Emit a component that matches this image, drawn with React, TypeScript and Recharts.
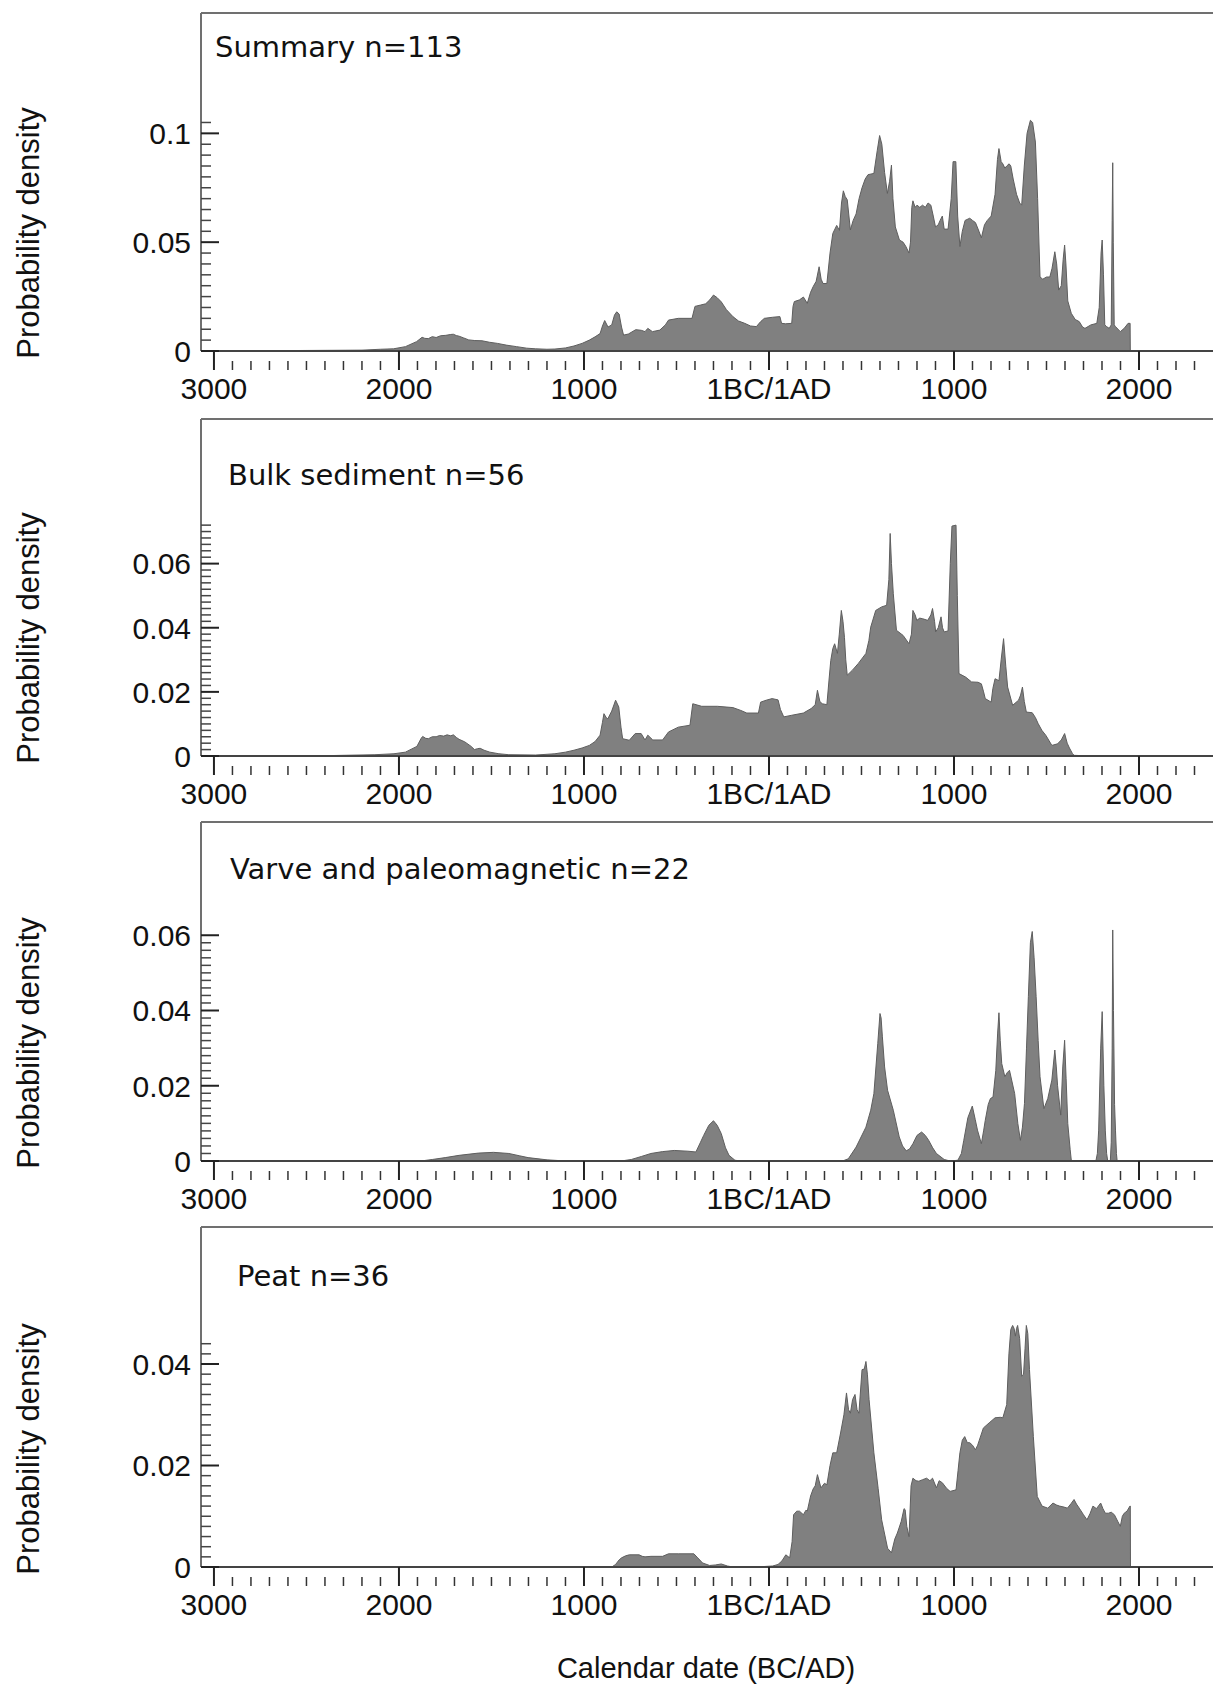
import React from 'react';
import { AreaChart, Area, XAxis, YAxis, ReferenceLine, Label } from 'recharts';

// ---------- axis definitions ----------
const X_DOMAIN: [number, number] = [-3070, 2400];
const xMajorTicks = [-3000, -2000, -1000, 0, 1000, 2000];
const xMajorLabels = ['3000', '2000', '1000', '1BC/1AD', '1000', '2000'];
const xMinorStep = 100;

const panelTitles = ['Summary n=113', 'Bulk sediment n=56', 'Varve and paleomagnetic n=22', 'Peat n=36'];
const yMajorTicks = [
  [0, 0.05, 0.1],
  [0, 0.02, 0.04, 0.06],
  [0, 0.02, 0.04, 0.06],
  [0, 0.02, 0.04],
];
const yMajorLabels = [
  ['0', '0.05', '0.1'],
  ['0', '0.02', '0.04', '0.06'],
  ['0', '0.02', '0.04', '0.06'],
  ['0', '0.02', '0.04'],
];
const yMinorSteps = [0.005, 0.002, 0.002, 0.002];
const yMinorMax = [0.105, 0.072, 0.06, 0.044];
const yDomainMax = [0.1553, 0.1051, 0.0901, 0.067];
const xAxisTitle = 'Calendar date (BC/AD)';
const yAxisTitle = 'Probability density';

// ---------- data: [year (BC negative), probability density] ----------
const summaryCurve: [number, number][] = [
  [-3000, 0], [-2600, 0.0002], [-2200, 0.0004], [-2100, 0.0008], [-2030, 0.001], [-1965, 0.002],
  [-1905, 0.0043], [-1875, 0.0063], [-1860, 0.0058], [-1841, 0.0057], [-1820, 0.0066], [-1799, 0.0062],
  [-1775, 0.007], [-1747, 0.0072], [-1720, 0.0076], [-1706, 0.0077], [-1690, 0.0071], [-1675, 0.0068],
  [-1650, 0.006], [-1623, 0.0051], [-1590, 0.0048], [-1551, 0.0047], [-1510, 0.004], [-1468, 0.0035],
  [-1420, 0.0027], [-1364, 0.002], [-1310, 0.0013], [-1261, 0.001], [-1200, 0.0008], [-1157, 0.0009],
  [-1100, 0.0014], [-1054, 0.0023], [-1010, 0.0035], [-971, 0.005], [-940, 0.0065], [-913, 0.008],
  [-900, 0.0115], [-888, 0.014], [-870, 0.011], [-850, 0.012], [-835, 0.0165], [-823, 0.018],
  [-810, 0.017], [-797, 0.011], [-786, 0.0073], [-760, 0.0078], [-720, 0.0098], [-690, 0.0095],
  [-670, 0.0089], [-655, 0.0104], [-630, 0.0089], [-590, 0.0096], [-560, 0.012], [-543, 0.0142],
  [-490, 0.015], [-416, 0.015], [-400, 0.0205], [-370, 0.0211], [-342, 0.0217], [-320, 0.0235],
  [-300, 0.0257], [-280, 0.0245], [-258, 0.0226], [-230, 0.019], [-195, 0.0158], [-165, 0.0138],
  [-131, 0.0127], [-100, 0.0115], [-68, 0.0112], [-45, 0.0135], [-25, 0.015], [20, 0.0155],
  [59, 0.0158], [68, 0.0127], [90, 0.0125], [123, 0.0127], [130, 0.0205], [137, 0.0227],
  [165, 0.0235], [186, 0.0248], [207, 0.0219], [225, 0.027], [239, 0.0296], [255, 0.032],
  [271, 0.0387], [282, 0.033], [292, 0.031], [313, 0.031], [330, 0.045], [345, 0.054],
  [366, 0.0577], [381, 0.0554], [392, 0.068], [402, 0.0736], [412, 0.071], [423, 0.0695],
  [440, 0.0556], [455, 0.06], [471, 0.063], [487, 0.07], [503, 0.075], [520, 0.079],
  [535, 0.081], [567, 0.0816], [585, 0.092], [598, 0.099], [610, 0.095], [625, 0.082],
  [640, 0.0724], [652, 0.078], [662, 0.0854], [670, 0.07], [683, 0.057], [705, 0.051],
  [725, 0.05], [740, 0.048], [757, 0.045], [765, 0.05], [772, 0.066], [778, 0.069],
  [790, 0.066], [800, 0.067], [815, 0.066], [830, 0.067], [845, 0.066], [860, 0.068],
  [875, 0.067], [888, 0.062], [900, 0.057], [915, 0.058], [925, 0.06], [937, 0.062],
  [947, 0.056], [968, 0.056], [985, 0.07], [995, 0.087], [1010, 0.087], [1020, 0.062],
  [1032, 0.048], [1045, 0.055], [1060, 0.06], [1085, 0.061], [1100, 0.06], [1116, 0.059],
  [1135, 0.055], [1148, 0.052], [1165, 0.058], [1180, 0.06], [1201, 0.062], [1222, 0.072],
  [1235, 0.088], [1243, 0.093], [1255, 0.087], [1264, 0.086], [1275, 0.084], [1285, 0.085],
  [1298, 0.086], [1307, 0.085], [1320, 0.079], [1338, 0.072], [1355, 0.068], [1366, 0.067],
  [1380, 0.085], [1395, 0.1], [1413, 0.106], [1425, 0.105], [1440, 0.096], [1452, 0.07],
  [1465, 0.034], [1480, 0.033], [1500, 0.034], [1518, 0.034], [1530, 0.038], [1545, 0.0456],
  [1555, 0.04], [1566, 0.028], [1580, 0.03], [1590, 0.042], [1598, 0.0487], [1605, 0.04],
  [1615, 0.023], [1634, 0.0173], [1655, 0.0145], [1677, 0.0135], [1695, 0.011], [1708, 0.0104],
  [1740, 0.012], [1772, 0.0127], [1785, 0.02], [1795, 0.045], [1801, 0.051], [1808, 0.035],
  [1815, 0.012], [1825, 0.0112], [1839, 0.0104], [1850, 0.012], [1855, 0.06], [1858, 0.0865],
  [1861, 0.05], [1866, 0.012], [1873, 0.0112], [1899, 0.0089], [1920, 0.0104], [1941, 0.0127],
  [1952, 0.0127], [1953, 0],
];

const bulkCurve: [number, number][] = [
  [-3000, 0], [-2400, 0.0001], [-2130, 0.0004], [-2027, 0.0007], [-1965, 0.0012], [-1903, 0.003],
  [-1880, 0.0055], [-1872, 0.0061], [-1855, 0.0055], [-1841, 0.0054], [-1820, 0.006], [-1799, 0.006],
  [-1780, 0.0064], [-1758, 0.0062], [-1740, 0.0066], [-1720, 0.0063], [-1706, 0.0066], [-1690, 0.0058],
  [-1675, 0.0052], [-1644, 0.0044], [-1610, 0.003], [-1592, 0.002], [-1575, 0.0023], [-1561, 0.0024],
  [-1540, 0.0018], [-1509, 0.0012], [-1460, 0.0007], [-1406, 0.0004], [-1261, 0.0003], [-1157, 0.0007],
  [-1100, 0.0012], [-1054, 0.0018], [-1010, 0.0025], [-971, 0.0033], [-940, 0.0045], [-913, 0.0065],
  [-900, 0.0105], [-892, 0.0132], [-880, 0.012], [-871, 0.0116], [-850, 0.014], [-829, 0.0174],
  [-812, 0.0153], [-800, 0.009], [-791, 0.0054], [-755, 0.0049], [-723, 0.007], [-691, 0.007],
  [-670, 0.005], [-655, 0.0065], [-628, 0.005], [-575, 0.005], [-543, 0.0075], [-490, 0.009],
  [-427, 0.0096], [-412, 0.0163], [-364, 0.0155], [-279, 0.0155], [-195, 0.0151], [-152, 0.0142],
  [-120, 0.0134], [-57, 0.0134], [-45, 0.0168], [-15, 0.0174], [17, 0.0179], [49, 0.0175],
  [62, 0.0145], [80, 0.0122], [123, 0.0127], [186, 0.0134], [228, 0.0148], [250, 0.016],
  [262, 0.0205], [275, 0.017], [288, 0.0163], [313, 0.016], [325, 0.024], [334, 0.0298],
  [345, 0.0335], [355, 0.035], [370, 0.032], [380, 0.038], [391, 0.0454], [400, 0.042],
  [408, 0.037], [415, 0.03], [423, 0.0252], [450, 0.0267], [482, 0.0288], [524, 0.032],
  [540, 0.036], [550, 0.0402], [577, 0.0454], [609, 0.0465], [636, 0.047], [648, 0.055],
  [655, 0.0694], [662, 0.06], [672, 0.0506], [689, 0.0392], [725, 0.0376], [757, 0.035],
  [770, 0.038], [778, 0.0454], [790, 0.044], [799, 0.0423], [815, 0.043], [831, 0.0428],
  [858, 0.0423], [875, 0.044], [884, 0.046], [895, 0.042], [901, 0.0387], [915, 0.04],
  [930, 0.0434], [938, 0.04], [947, 0.0387], [968, 0.039], [980, 0.06], [989, 0.0717],
  [1011, 0.072], [1018, 0.05], [1027, 0.0257], [1063, 0.0246], [1095, 0.0231], [1130, 0.023],
  [1148, 0.0225], [1160, 0.02], [1169, 0.0179], [1201, 0.0168], [1210, 0.021], [1222, 0.0241],
  [1243, 0.0235], [1255, 0.03], [1268, 0.0366], [1280, 0.028], [1290, 0.0215], [1317, 0.0158],
  [1349, 0.0174], [1360, 0.019], [1370, 0.0215], [1380, 0.017], [1391, 0.0137], [1423, 0.0135],
  [1440, 0.012], [1455, 0.0101], [1475, 0.008], [1497, 0.0064], [1529, 0.0033], [1560, 0.0038],
  [1580, 0.005], [1598, 0.007], [1612, 0.004], [1624, 0.0025], [1640, 0.0008], [1649, 0.0002],
  [1700, 0.0001], [1820, 0.0001], [1900, 0],
];

const varveCurve: [number, number][] = [
  [-3000, 0], [-1882, 0], [-1820, 0.0004], [-1750, 0.0009], [-1675, 0.0015], [-1571, 0.0021],
  [-1489, 0.0023], [-1406, 0.002], [-1350, 0.0014], [-1302, 0.0009], [-1199, 0.0003], [-1095, 0],
  [-800, 0], [-744, 0.0004], [-690, 0.0012], [-638, 0.002], [-575, 0.0025], [-512, 0.0028],
  [-438, 0.0026], [-395, 0.0024], [-370, 0.005], [-353, 0.0068], [-325, 0.0095], [-300, 0.0107],
  [-280, 0.0095], [-258, 0.0073], [-235, 0.0035], [-216, 0.0015], [-184, 0.0002], [-152, 0],
  [398, 0], [429, 0.0006], [471, 0.0037], [524, 0.009], [550, 0.0135], [567, 0.0179],
  [588, 0.0312], [600, 0.0392], [606, 0.038], [613, 0.033], [625, 0.025], [641, 0.0188],
  [672, 0.0135], [704, 0.0064], [722, 0.004], [742, 0.0027], [760, 0.0032], [778, 0.0046],
  [800, 0.0068], [825, 0.0077], [845, 0.0068], [863, 0.0055], [885, 0.0035], [905, 0.002],
  [947, 0.0004], [979, 0], [1021, 0.0002], [1040, 0.002], [1053, 0.0055], [1075, 0.0115],
  [1099, 0.0146], [1115, 0.011], [1127, 0.0082], [1148, 0.0046], [1160, 0.008], [1169, 0.0108],
  [1185, 0.015], [1197, 0.0166], [1211, 0.017], [1226, 0.0241], [1236, 0.034], [1243, 0.0394],
  [1250, 0.032], [1258, 0.0259], [1275, 0.0224], [1288, 0.0235], [1300, 0.0241], [1314, 0.021],
  [1328, 0.0179], [1345, 0.01], [1359, 0.0055], [1370, 0.009], [1381, 0.0153], [1392, 0.03],
  [1402, 0.0437], [1413, 0.058], [1423, 0.061], [1433, 0.054], [1444, 0.0437], [1455, 0.032],
  [1465, 0.0224], [1486, 0.0139], [1507, 0.0166], [1529, 0.0215], [1545, 0.0295], [1553, 0.025],
  [1560, 0.02], [1577, 0.0122], [1588, 0.025], [1598, 0.0321], [1606, 0.022], [1615, 0.01],
  [1628, 0.003], [1634, 0.0002], [1640, 0], [1767, 0], [1775, 0.002], [1782, 0.0082],
  [1793, 0.03], [1801, 0.0397], [1810, 0.02], [1818, 0.008], [1825, 0.002], [1831, 0],
  [1845, 0], [1850, 0.005], [1855, 0.03], [1858, 0.0614], [1862, 0.04], [1868, 0.015],
  [1873, 0.008], [1878, 0.002], [1882, 0],
];

const peatCurve: [number, number][] = [
  [-3000, 0], [-850, 0], [-829, 0.0005], [-810, 0.0014], [-797, 0.0018], [-775, 0.0022],
  [-755, 0.0024], [-702, 0.0024], [-685, 0.0021], [-670, 0.002], [-638, 0.0021], [-575, 0.0021],
  [-543, 0.0026], [-490, 0.0026], [-406, 0.0026], [-385, 0.0018], [-359, 0.0008], [-321, 0.0003],
  [-290, 0.0004], [-258, 0.0006], [-225, 0.0002], [-195, 0], [-60, 0], [-25, 0.0001],
  [20, 0.0002], [49, 0.0005], [70, 0.0012], [91, 0.0024], [112, 0.0018], [125, 0.005],
  [133, 0.0103], [150, 0.011], [165, 0.011], [186, 0.0103], [200, 0.0112], [207, 0.011],
  [225, 0.014], [239, 0.0154], [250, 0.016], [262, 0.0182], [281, 0.0156], [300, 0.0165],
  [313, 0.0162], [330, 0.02], [345, 0.0225], [366, 0.0225], [387, 0.0264], [405, 0.03],
  [419, 0.0343], [430, 0.031], [440, 0.0303], [452, 0.033], [465, 0.034], [476, 0.031],
  [486, 0.0303], [503, 0.0389], [515, 0.039], [524, 0.0405], [532, 0.038], [541, 0.033],
  [567, 0.0225], [590, 0.0155], [609, 0.0093], [641, 0.0037], [662, 0.0028], [680, 0.0055],
  [694, 0.0067], [715, 0.009], [730, 0.0115], [736, 0.0113], [745, 0.008], [757, 0.006],
  [768, 0.016], [778, 0.0175], [795, 0.017], [810, 0.0169], [830, 0.0172], [852, 0.0175],
  [870, 0.017], [884, 0.0175], [905, 0.0156], [920, 0.017], [937, 0.0166], [960, 0.0155],
  [979, 0.0149], [1011, 0.0152], [1022, 0.019], [1032, 0.0225], [1045, 0.025], [1058, 0.0257],
  [1072, 0.0245], [1085, 0.0245], [1100, 0.024], [1116, 0.0231], [1128, 0.024], [1137, 0.025],
  [1159, 0.0274], [1190, 0.0284], [1222, 0.0294], [1250, 0.0295], [1264, 0.0294], [1285, 0.032],
  [1297, 0.042], [1307, 0.0468], [1317, 0.0476], [1325, 0.047], [1332, 0.0455], [1338, 0.047],
  [1344, 0.0476], [1355, 0.045], [1366, 0.0376], [1376, 0.038], [1384, 0.043], [1391, 0.0476],
  [1399, 0.046], [1408, 0.0389], [1429, 0.0257], [1450, 0.0139], [1476, 0.012], [1507, 0.0116],
  [1535, 0.0126], [1555, 0.0122], [1571, 0.012], [1595, 0.0118], [1613, 0.0116], [1633, 0.0125],
  [1649, 0.0133], [1662, 0.0124], [1677, 0.0116], [1700, 0.0103], [1719, 0.0093], [1735, 0.0105],
  [1751, 0.012], [1770, 0.0115], [1793, 0.0126], [1805, 0.0115], [1818, 0.0106], [1835, 0.0106],
  [1850, 0.0108], [1867, 0.0103], [1885, 0.009], [1899, 0.008], [1910, 0.01], [1920, 0.0106],
  [1935, 0.011], [1951, 0.012], [1953, 0.012], [1954, 0],
];

const panelCurves = [summaryCurve, bulkCurve, varveCurve, peatCurve];

// ---------- layout (pixels) ----------
const W = 1213;
const frameTops = [13, 419, 822, 1227];
const axisYs = [351, 756, 1161, 1567];
const titleXs = [215, 228, 230, 237];
const titleBaselines = [57, 485, 879, 1286];
const PAD = 5;
const AXIS_LEFT = 201;
const SANS = '"Liberation Sans", Arial, Helvetica, sans-serif';
const DEJAVU = '"DejaVu Sans", Verdana, sans-serif';

function stepsTo(max: number, step: number): number[] {
  const n = Math.round(max / step);
  const out: number[] = [];
  for (let i = 0; i <= n; i++) out.push(Math.round(i * step * 1e6) / 1e6);
  return out;
}

const xAllTicks: number[] = (() => {
  const out: number[] = [];
  for (let v = -3000; v <= 2300; v += xMinorStep) out.push(v);
  return out;
})();

const XTick = (props: any) => {
  const { x, y, payload } = props;
  const idx = xMajorTicks.indexOf(payload.value);
  if (idx >= 0) {
    return (
      <g>
        <line x1={x} x2={x} y1={y} y2={y + 19} stroke="#222" strokeWidth={2} />
        <text x={x} y={y + 48} textAnchor="middle" fontFamily={SANS} fontSize={30} fill="#111">
          {xMajorLabels[idx]}
        </text>
      </g>
    );
  }
  return <line x1={x} x2={x} y1={y + 10} y2={y + 19} stroke="#333" strokeWidth={1.5} />;
};

function makeYTick(majors: number[], labels: string[]) {
  return (props: any) => {
    const { x, y, payload } = props;
    const idx = majors.findIndex((m) => Math.abs(m - payload.value) < 1e-9);
    if (idx >= 0) {
      return (
        <g>
          <line x1={x} x2={x + 18} y1={y} y2={y} stroke="#222" strokeWidth={2} />
          <text x={x - 10} y={y} dy="0.36em" textAnchor="end" fontFamily={SANS} fontSize={30} fill="#111">
            {labels[idx]}
          </text>
        </g>
      );
    }
    return <line x1={x} x2={x + 10} y1={y} y2={y} stroke="#444" strokeWidth={1.5} />;
  };
}

function Panel({ idx }: { idx: number }) {
  const top = frameTops[idx];
  const y0 = axisYs[idx];
  const plotH = y0 - top;
  const last = idx === panelCurves.length - 1;
  const extra = last ? 70 : 0;
  const height = PAD + plotH + 60 + extra;
  const chartTop = top - PAD;
  const data = panelCurves[idx].map(([x, v]) => ({ x, v }));
  const yTicks = stepsTo(yMinorMax[idx], yMinorSteps[idx]);
  const yTick = makeYTick(yMajorTicks[idx], yMajorLabels[idx]);

  return (
    <div style={{ position: 'absolute', left: 0, top: chartTop }}>
      <AreaChart width={W} height={height} data={data} margin={{ top: PAD, right: 0, bottom: extra, left: 0 }}>
        <Area
          type="linear"
          dataKey="v"
          stroke="#5e5e5e"
          strokeWidth={1}
          fill="#808080"
          fillOpacity={1}
          dot={false}
          activeDot={false}
          isAnimationActive={false}
        />
        <ReferenceLine y={yDomainMax[idx]} stroke="#707070" strokeWidth={2}>
          <Label
            content={() => (
              <text x={titleXs[idx]} y={titleBaselines[idx] - chartTop} fontFamily={DEJAVU} fontSize={29} fill="#111">
                {panelTitles[idx]}
              </text>
            )}
          />
        </ReferenceLine>
        <XAxis
          dataKey="x"
          type="number"
          domain={X_DOMAIN}
          allowDataOverflow
          ticks={xAllTicks}
          interval={0}
          tickLine={false}
          tickSize={0}
          tickMargin={0}
          height={60}
          axisLine={{ stroke: '#444', strokeWidth: 2 }}
          tick={XTick}
        >
          {last ? (
            <Label
              content={() => (
                <text x={706} y={1678 - chartTop} textAnchor="middle" fontFamily={SANS} fontSize={29} fill="#111">
                  {xAxisTitle}
                </text>
              )}
            />
          ) : null}
        </XAxis>
        <YAxis
          type="number"
          domain={[0, yDomainMax[idx]]}
          allowDataOverflow
          ticks={yTicks}
          interval={0}
          tickLine={false}
          tickSize={0}
          tickMargin={0}
          width={AXIS_LEFT}
          axisLine={{ stroke: '#707070', strokeWidth: 2 }}
          tick={yTick}
        >
          <Label
            content={() => (
              <text
                transform={`translate(39, ${y0 - 118 - chartTop}) rotate(-90)`}
                textAnchor="middle"
                fontFamily={SANS}
                fontSize={31}
                fill="#111"
              >
                {yAxisTitle}
              </text>
            )}
          />
        </YAxis>
      </AreaChart>
    </div>
  );
}

export default function App() {
  return (
    <div style={{ position: 'absolute', left: 0, top: 0, width: W, height: 1688, background: '#fff', overflow: 'hidden' }}>
      {panelCurves.map((_, i) => (
        <Panel key={i} idx={i} />
      ))}
    </div>
  );
}
